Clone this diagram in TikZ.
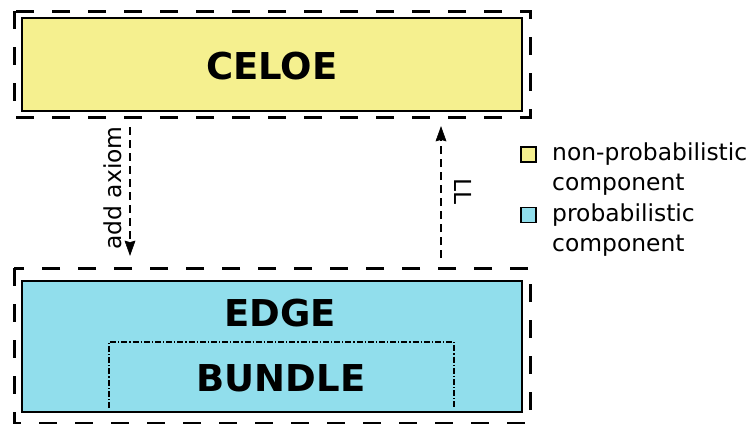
\documentclass[tikz,border=0pt]{standalone}
\usepackage{fontspec}
\setmainfont{DejaVu Sans}
\usetikzlibrary{arrows.meta}
\definecolor{nonprob}{RGB}{245,240,143}
\definecolor{prob}{RGB}{145,222,236}
\tikzset{
  groupframe/.style={draw=black, line width=3pt, dash pattern=on 18pt off 18pt},
  component/.style={draw=black, line width=1.3pt},
  title/.style={font=\fontsize{37}{40}\selectfont\bfseries, inner sep=0pt},
  legendtext/.style={font=\fontsize{23.4}{29.5}\selectfont, align=left, anchor=west, inner sep=0pt},
  swatch/.style={draw=black, line width=1.2pt, minimum size=15pt, inner sep=0pt},
  flowline/.style={draw=black, line width=1.3pt, dash pattern=on 8pt off 5pt, shorten >=10pt},
  flowtip/.style={draw=black, line width=0.6pt, fill=black, line join=miter},
  flowlabel/.style={font=\fontsize{23.4}{28}\selectfont, inner sep=0pt},
}
\begin{document}
\begin{tikzpicture}[x=1pt,y=-1pt]
\useasboundingbox (0,0) rectangle (752,423);

% CELOE: non-probabilistic component
\draw[groupframe] (14,11) rectangle (530,117);
\draw[component, fill=nonprob] (22,18) rectangle (522,111);
\node[title] (celoe) at (272,66) {CELOE};

% EDGE with embedded BUNDLE: probabilistic component
\draw[groupframe] (14,268) rectangle (530,423);
\draw[component, fill=prob] (22,281) rectangle (522,412);
\node[title] (edge) at (280,313) {EDGE};
\draw[line width=1.2pt, dash pattern=on 6pt off 2pt on 1.2pt off 2pt]
  (109,408) -- (109,342) -- (454,342) -- (454,408);
\node[title] (bundle) at (281,378) {BUNDLE};

% interaction between the two systems
\coordinate (axfrom) at (130,127);
\coordinate (axto) at (130,255);
\coordinate (llfrom) at (441,258);
\coordinate (llto) at (441,127);
\draw[flowline] (axfrom) -- (axto);
\draw[flowline] (llfrom) -- (llto);
% solid arrow heads
\filldraw[flowtip] (axto) -- ++(-5,-14) -- ++(5,1.5) -- ++(5,-1.5) -- cycle;
\filldraw[flowtip] (llto) -- ++(-5,14) -- ++(5,-1.5) -- ++(5,1.5) -- cycle;
\node[flowlabel, rotate=90] (axlabel) at (113,188) {add axiom};
\node[flowlabel, rotate=-90] (lllabel) at (463,192) {LL};

% legend
\node[swatch, fill=nonprob] (sw1) at (528.5,154.5) {};
\node[legendtext] (lg1) at (552,169) {non-probabilistic\\component};
\node[swatch, fill=prob] (sw2) at (528.5,215) {};
\node[legendtext] (lg2) at (552,230) {probabilistic\\component};
\end{tikzpicture}
\end{document}
